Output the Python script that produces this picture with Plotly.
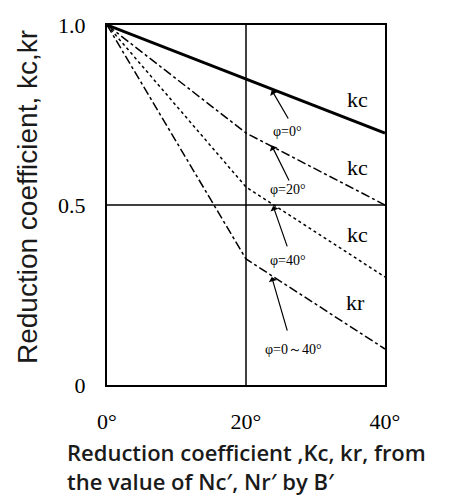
import plotly.graph_objects as go

# Data
phi_deg = [0, 20, 40]
kc_phi0 = [1.0, 0.85, 0.70]
kc_phi20 = [1.0, 0.70, 0.50]
kc_phi40 = [1.0, 0.55, 0.30]
kr_all = [1.0, 0.35, 0.10]

x_tick_vals = [0, 20, 40]
x_tick_text = ["0°", "20°", "40°"]
y_tick_vals = [0, 0.5, 1.0]
y_tick_text = ["0", "0.5", "1.0"]

curve_labels = ["kc", "kc", "kc", "kr"]
curve_label_pos = [(36.1, 0.794), (36.1, 0.603), (36.1, 0.417), (35.7, 0.228)]
phi_labels = ["φ=0°", "φ=20°", "φ=40°", "φ=0～40°"]
phi_label_pos = [(26.0, 0.703), (26.0, 0.542), (26.0, 0.347), (26.8, 0.100)]
arrow_tips = [(23.7, 0.819), (23.7, 0.665), (23.9, 0.497), (23.7, 0.300)]
arrow_tails = [(26.2, 0.736), (26.3, 0.564), (26.0, 0.381), (26.0, 0.147)]

x_title = "Reduction coefficient ,Kc, kr, from<br>the value of Nc′, Nr′ by B′"
y_title = "Reduction coefficient, kc,kr"

serif = "Liberation Serif, DejaVu Serif, serif"
xsans = "Open Sans, Noto Sans, sans-serif"
ysans = "Liberation Sans, Arial, sans-serif"

fig = go.Figure()
styles = [
    (kc_phi0, "solid", 3),
    (kc_phi20, "dashdot", 1.5),
    (kc_phi40, "dot", 1.5),
    (kr_all, "dashdot", 1.5),
]
for ys, dash, w in styles:
    fig.add_trace(go.Scatter(x=phi_deg, y=ys, mode="lines",
                             line=dict(color="black", width=w, dash=dash),
                             showlegend=False, hoverinfo="skip"))

fig.add_shape(type="line", x0=20, x1=20, y0=0, y1=1, xref="x", yref="y",
              line=dict(color="black", width=1.5))
fig.add_shape(type="line", x0=0, x1=40, y0=0.5, y1=0.5, xref="x", yref="y",
              line=dict(color="black", width=1.5))

annotations = []
for t, (x, y) in zip(curve_labels, curve_label_pos):
    annotations.append(dict(x=x, y=y, xref="x", yref="y", text=t, showarrow=False,
                            font=dict(family=serif, size=22, color="black")))
for t, (x, y) in zip(phi_labels, phi_label_pos):
    annotations.append(dict(x=x, y=y, xref="x", yref="y", text=t, showarrow=False,
                            font=dict(family=serif, size=14, color="black")))
for (tx, ty), (ax, ay) in zip(arrow_tips, arrow_tails):
    annotations.append(dict(x=tx, y=ty, ax=ax, ay=ay, xref="x", yref="y",
                            axref="x", ayref="y", text="", showarrow=True,
                            arrowhead=1, arrowsize=1.2, arrowwidth=1.2,
                            arrowcolor="black", standoff=0, startstandoff=0))
# axis titles (plot area spans window px x 107..385, y 25..385)
annotations.append(dict(x=(65 - 107) / 278, y=(385 - 466) / 360,
                        xref="paper", yref="paper",
                        xanchor="left", yanchor="middle", align="left",
                        text=x_title, showarrow=False,
                        font=dict(family=xsans, size=22, color="#1a1a1a", weight=600)))
annotations.append(dict(x=(27 - 107) / 278, y=(385 - 197) / 360, xref="paper", yref="paper",
                        xanchor="center", yanchor="middle", textangle=-90,
                        text=y_title, showarrow=False,
                        font=dict(family=ysans, size=28, color="#1a1a1a")))

# page body has an 8px margin, so the figure is offset by 8px in the window
fig.update_layout(
    width=453, height=491,
    margin=dict(l=99, r=76, t=17, b=114, autoexpand=False),
    paper_bgcolor="white", plot_bgcolor="white",
    showlegend=False,
    annotations=annotations,
    xaxis=dict(range=[0, 40], tickvals=x_tick_vals, ticktext=x_tick_text,
               showgrid=False, zeroline=False, showline=True, mirror=True,
               linecolor="black", linewidth=2, ticks="", automargin=False,
               ticklabelstandoff=16,
               tickfont=dict(family=serif, size=22, color="black")),
    yaxis=dict(range=[0, 1], tickvals=y_tick_vals, ticktext=y_tick_text,
               showgrid=False, zeroline=False, showline=True, mirror=True,
               linecolor="black", linewidth=2, ticks="", automargin=False,
               ticklabelstandoff=15,
               tickfont=dict(family=serif, size=22, color="black")),
)

fig.write_html("out.html")
